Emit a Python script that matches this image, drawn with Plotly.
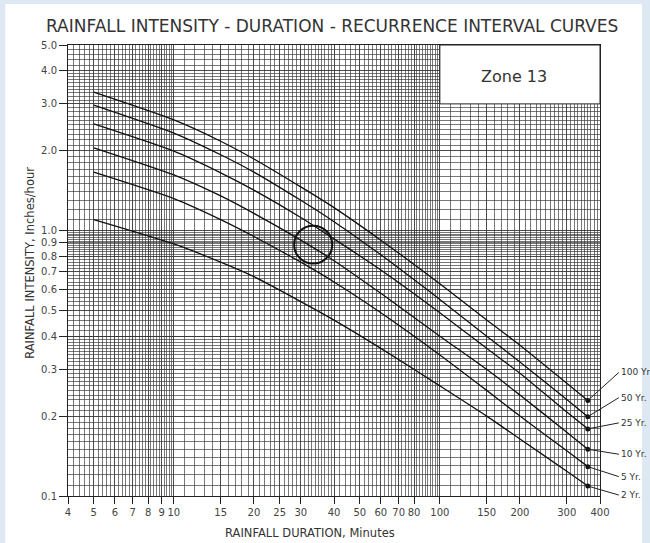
import numpy as np
import plotly.graph_objects as go

# rainfall duration (minutes) and intensity (inches/hour)
duration = [5, 10, 15, 20, 30, 40, 60, 100, 150, 200, 300, 360]
i_2yr = [1.10, 0.89, 0.76, 0.67, 0.54, 0.46, 0.36, 0.26, 0.20, 0.164, 0.124, 0.109]
i_5yr = [1.66, 1.32, 1.10, 0.95, 0.76, 0.64, 0.49, 0.34, 0.25, 0.20, 0.148, 0.129]
i_10yr = [2.05, 1.62, 1.35, 1.16, 0.92, 0.77, 0.58, 0.40, 0.30, 0.24, 0.174, 0.150]
i_25yr = [2.52, 1.99, 1.65, 1.42, 1.12, 0.93, 0.71, 0.49, 0.36, 0.29, 0.207, 0.179]
i_50yr = [2.97, 2.33, 1.93, 1.66, 1.30, 1.08, 0.81, 0.55, 0.40, 0.32, 0.231, 0.199]
i_100yr = [3.32, 2.61, 2.17, 1.86, 1.46, 1.22, 0.92, 0.63, 0.46, 0.37, 0.266, 0.229]

series = [
    ("100 Yr", i_100yr, -28),
    ("50 Yr.", i_50yr, -19),
    ("25 Yr.", i_25yr, -6),
    ("10 Yr.", i_10yr, 5),
    ("5 Yr.", i_5yr, 10),
    ("2 Yr.", i_2yr, 9),
]

# circled reading on the 10-yr curve
circle_t, circle_i = 33.4, 0.885

x_ticks = [4, 5, 6, 7, 8, 9, 10, 15, 20, 25, 30, 40, 50, 60, 70, 80, 100, 150, 200, 300, 400]
y_ticks = [0.1, 0.2, 0.3, 0.4, 0.5, 0.6, 0.7, 0.8, 0.9, 1.0, 2.0, 3.0, 4.0, 5.0]

# log-paper grid
grid_x = np.r_[np.arange(4, 10, 0.2), np.arange(10, 40, 1), np.arange(40, 100, 2), np.arange(100, 401, 10)]
grid_y = np.r_[np.arange(0.1, 0.4, 0.01), np.arange(0.4, 0.8, 0.02), np.linspace(0.8, 1.0, 14),
               np.arange(1.0, 4.0, 0.1), np.arange(4.0, 5.01, 0.2)]

FONT = "DejaVu Sans"
INK = "#222222"
GRID = "rgba(50,50,50,0.66)"

fig = go.Figure()

for name, vals, _ in series:
    fig.add_trace(go.Scatter(
        x=duration, y=vals, mode="lines", name=name,
        line=dict(color="#111111", width=1.3, shape="spline", smoothing=0.6),
        showlegend=False,
    ))

# end dots at 360 minutes
fig.add_trace(go.Scatter(
    x=[duration[-1]] * len(series), y=[s[1][-1] for s in series],
    mode="markers", marker=dict(color="#111111", size=5), showlegend=False,
))

# leader labels
for name, vals, ay in series:
    fig.add_annotation(
        x=np.log10(duration[-1]), y=np.log10(vals[-1]), xref="x", yref="y",
        text=name, showarrow=True, arrowhead=0, arrowwidth=1, arrowcolor=INK,
        ax=31, ay=ay, xanchor="left", yanchor="middle",
        font=dict(family=FONT, size=9, color="#333333"),
    )

# decade lines
for xv in [10, 100]:
    fig.add_shape(type="line", x0=xv, x1=xv, y0=0, y1=1, xref="x", yref="paper",
                  line=dict(color="#333333", width=1.2), layer="between")
fig.add_shape(type="line", x0=0, x1=1, y0=1.0, y1=1.0, xref="paper", yref="y",
              line=dict(color="#333333", width=1.2), layer="between")

# zone box
fig.add_shape(type="rect", x0=100, x1=400, y0=3.0, y1=5.0, xref="x", yref="y",
              fillcolor="white", line=dict(color=INK, width=1), layer="above")
fig.add_annotation(x=np.log10(190), y=np.log10(3.8), xref="x", yref="y", text="Zone 13",
                   showarrow=False, font=dict(family=FONT, size=16, color="#333333"))

# circle (radius ~19 px, one decade ~266 px)
k = 10 ** (19 / 266)
fig.add_shape(type="circle", xref="x", yref="y",
              x0=circle_t / k, x1=circle_t * k, y0=circle_i / k, y1=circle_i * k,
              line=dict(color="#111111", width=2), layer="above")

# white sheet on the light-blue page
fig.add_shape(type="rect", xref="paper", yref="paper",
              x0=-0.118, x1=1.079, y0=-0.11, y1=1.091,
              fillcolor="white", line_width=0, layer="below")

fig.add_annotation(x=0.455, y=-0.082, xref="paper", yref="paper",
                   text="RAINFALL DURATION, Minutes", showarrow=False,
                   xanchor="center", yanchor="middle",
                   font=dict(family=FONT, size=11.5, color="#333333"))
fig.add_annotation(x=-0.0714, y=0.517, xref="paper", yref="paper",
                   text="RAINFALL INTENSITY, Inches/hour", textangle=-90, showarrow=False,
                   xanchor="center", yanchor="middle",
                   font=dict(family=FONT, size=11.5, color="#333333"))

fig.update_xaxes(
    type="log", range=[np.log10(4), np.log10(400)],
    tickmode="array", tickvals=x_ticks, ticktext=[str(v) for v in x_ticks],
    ticks="outside", ticklen=7, tickcolor=INK, tickwidth=1,
    showgrid=True, gridcolor=GRID, gridwidth=1,
    minor=dict(tickmode="array", tickvals=grid_x, showgrid=True, gridcolor=GRID, gridwidth=1, ticks=""),
    showline=True, mirror=True, linecolor=INK, linewidth=1, zeroline=False,
    tickfont=dict(family=FONT, size=10, color="#444444"),
)
fig.update_yaxes(
    type="log", range=[-1, np.log10(5)],
    tickmode="array", tickvals=y_ticks, ticktext=[f"{v:.1f}" for v in y_ticks],
    ticks="outside", ticklen=8, tickcolor=INK, tickwidth=1,
    showgrid=True, gridcolor=GRID, gridwidth=1,
    minor=dict(tickmode="array", tickvals=grid_y, showgrid=True, gridcolor=GRID, gridwidth=1, ticks=""),
    showline=True, mirror=True, linecolor=INK, linewidth=1, zeroline=False,
    tickfont=dict(family=FONT, size=10, color="#444444"),
)

fig.update_layout(
    width=650, height=543,
    margin=dict(l=68, r=50, t=45, b=47),
    paper_bgcolor="#dde8f3", plot_bgcolor="white",
    title=dict(text="RAINFALL INTENSITY - DURATION - RECURRENCE INTERVAL CURVES",
               x=0.511, xref="container", xanchor="center",
               y=1 - 26 / 543, yref="container", yanchor="middle",
               font=dict(family=FONT, size=17, color="#333333")),
    showlegend=False,
)

fig.write_html("out.html", config={"displayModeBar": False},
               post_script="document.body.style.margin='0';")
